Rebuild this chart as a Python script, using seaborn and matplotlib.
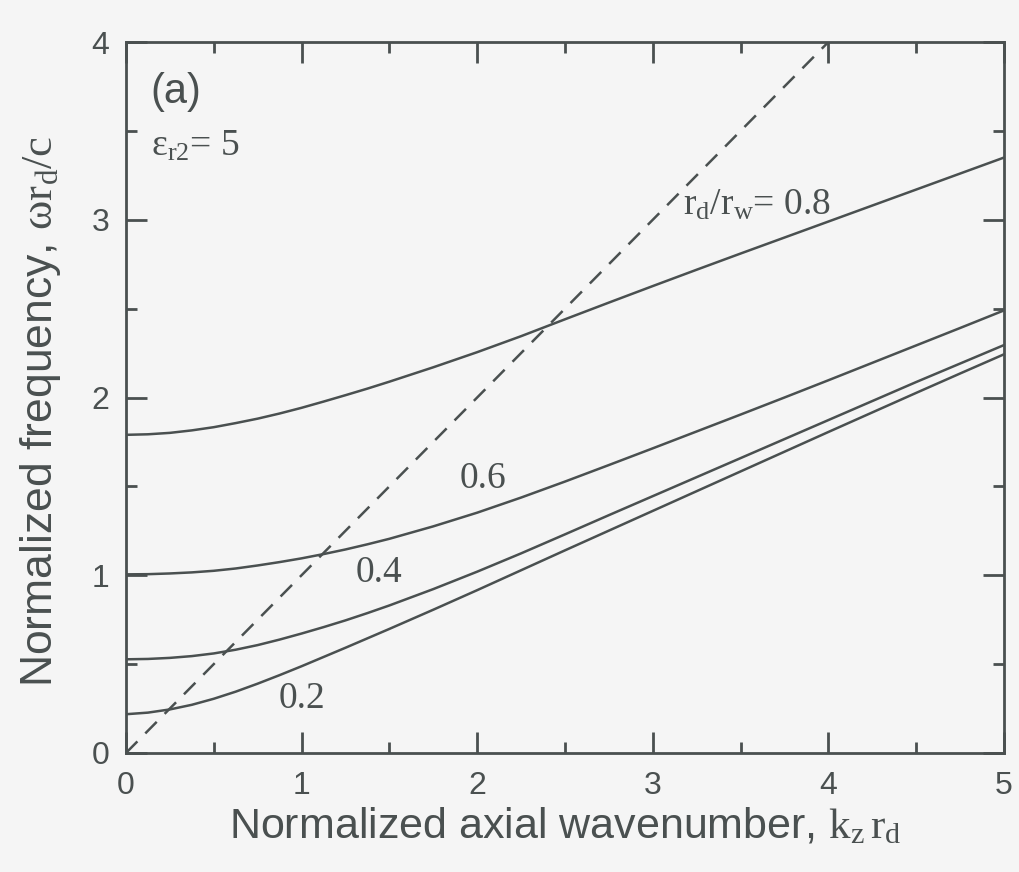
import numpy as np
import pandas as pd
import matplotlib
matplotlib.use("Agg")
import matplotlib.pyplot as plt
from matplotlib.ticker import MultipleLocator
import seaborn as sns

# Normalized axial wavenumber k_z r_d (finer spacing where the curves bend)
k = [0.0, 0.125, 0.25, 0.375, 0.5, 0.625, 0.75, 0.875, 1.0, 1.125, 1.25, 1.375, 1.5,
     1.75, 2.0, 2.25, 2.5, 2.75, 3.0, 3.25, 3.5, 3.75, 4.0, 4.25, 4.5, 4.75, 5.0]

# Normalized frequency omega r_d / c for each r_d/r_w ratio
w_08 = [1.790, 1.793, 1.801, 1.815, 1.833, 1.856, 1.881, 1.910, 1.942, 1.977, 2.013, 2.050, 2.089,
        2.170, 2.255, 2.345, 2.440, 2.534, 2.627, 2.719, 2.810, 2.900, 2.990, 3.080, 3.170, 3.260, 3.350]
w_06 = [1.005, 1.006, 1.010, 1.016, 1.025, 1.038, 1.055, 1.074, 1.095, 1.119, 1.145, 1.174, 1.205,
        1.275, 1.352, 1.437, 1.527, 1.620, 1.714, 1.809, 1.904, 2.000, 2.097, 2.195, 2.293, 2.391, 2.490]
w_04 = [0.527, 0.529, 0.535, 0.545, 0.560, 0.581, 0.607, 0.638, 0.672, 0.708, 0.746, 0.787, 0.830,
        0.922, 1.020, 1.123, 1.230, 1.338, 1.445, 1.552, 1.659, 1.766, 1.873, 1.980, 2.087, 2.191, 2.295]
w_02 = [0.218, 0.227, 0.245, 0.271, 0.305, 0.345, 0.390, 0.438, 0.488, 0.540, 0.592, 0.645, 0.698,
        0.806, 0.916, 1.028, 1.140, 1.251, 1.362, 1.473, 1.584, 1.695, 1.806, 1.916, 2.026, 2.135, 2.243]
ratios = ["0.8", "0.6", "0.4", "0.2"]

# Light line omega = k_z c
light_k = [0.0, 4.0]
light_w = [0.0, 4.0]

ink = "#4a5050"
bg = "#f5f5f5"

sns.set_theme(style="ticks")
plt.rcParams["font.family"] = ["Liberation Sans", "DejaVu Sans"]
plt.rcParams["mathtext.fontset"] = "custom"
plt.rcParams["mathtext.rm"] = "Liberation Serif"
plt.rcParams["mathtext.it"] = "Liberation Serif:italic"
plt.rcParams["mathtext.bf"] = "Liberation Serif:bold"
plt.rcParams["axes.edgecolor"] = ink
plt.rcParams["text.color"] = ink

df = pd.DataFrame({
    "k": k * 4,
    "w": w_08 + w_06 + w_04 + w_02,
    "ratio": [r for r in ratios for _ in k],
})

fig = plt.figure(figsize=(10.2, 8.72), dpi=100, facecolor=bg)
ax = fig.add_axes([0.1235, 0.1365, 0.8608, 0.8153])
ax.set_facecolor(bg)

sns.lineplot(data=df, x="k", y="w", units="ratio", estimator=None,
             color=ink, linewidth=1.8, ax=ax, legend=False)
sns.lineplot(x=light_k, y=light_w, color=ink, linewidth=1.8,
             dashes=False, ax=ax, legend=False)
ax.lines[-1].set_dashes((6.5, 4.5))

ax.set_xlim(0, 5)
ax.set_ylim(0, 4)
ax.xaxis.set_major_locator(MultipleLocator(1))
ax.xaxis.set_minor_locator(MultipleLocator(0.5))
ax.yaxis.set_major_locator(MultipleLocator(1))
ax.yaxis.set_minor_locator(MultipleLocator(0.5))

for s in ax.spines.values():
    s.set_linewidth(2.0)
    s.set_color(ink)

ax.tick_params(which="both", direction="in", top=True, right=True,
               color=ink, width=2.0, labelcolor=ink, labelsize=23)
ax.tick_params(which="major", length=15)
ax.tick_params(which="minor", length=8)
ax.tick_params(axis="x", pad=13)
ax.tick_params(axis="y", pad=12)

ax.set_xlabel(r"Normalized axial wavenumber, $\mathrm{k_z\,r_d}$",
              fontsize=31, color=ink, labelpad=4)
ax.set_ylabel(r"Normalized frequency, $\mathrm{\omega r_d/c}$",
              fontsize=32, color=ink)
ax.yaxis.set_label_coords(-0.072, 0.48)

serif = ["Liberation Serif", "DejaVu Serif"]
ax.text(0.137, 3.72, "(a)", fontsize=30, color=ink, va="center", ha="left")
ax.text(0.145, 3.36, r"$\mathrm{ε_{r2}}$= 5", fontsize=27, color=ink,
        family=serif, va="baseline", ha="left")
ax.text(3.17, 3.03, r"$\mathrm{r_d/r_w}$= 0.8", fontsize=27, color=ink,
        family=serif, va="baseline", ha="left")
ax.text(1.90, 1.49, ratios[1], fontsize=27, color=ink, family=serif,
        va="baseline", ha="left")
ax.text(1.31, 0.962, ratios[2], fontsize=27, color=ink, family=serif,
        va="baseline", ha="left")
ax.text(0.87, 0.255, ratios[3], fontsize=27, color=ink, family=serif,
        va="baseline", ha="left")

fig.savefig("out.png", dpi=100, facecolor=bg)
